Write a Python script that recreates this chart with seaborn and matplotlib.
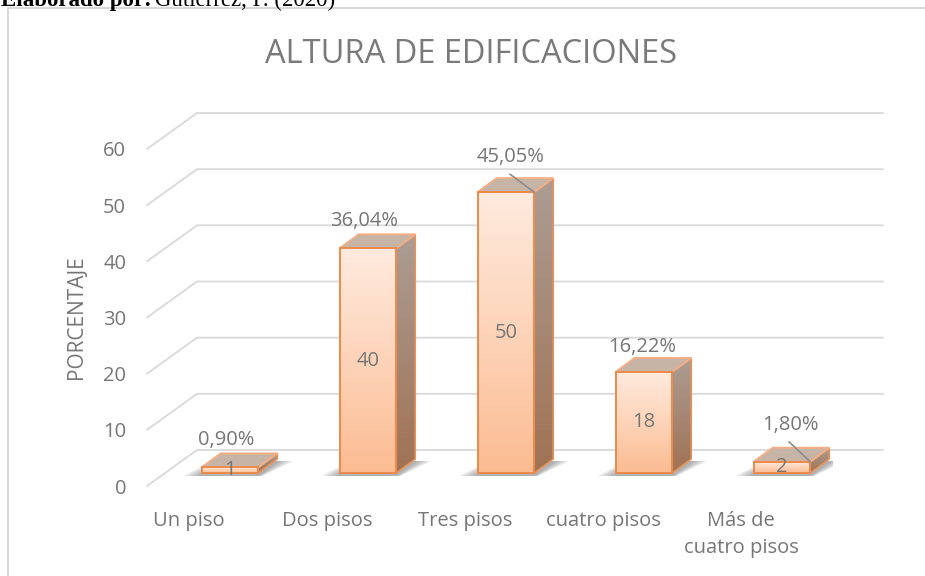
import numpy as np
import pandas as pd
import matplotlib
matplotlib.use("Agg")
import matplotlib.pyplot as plt
import seaborn as sns
from matplotlib.transforms import ScaledTranslation
from matplotlib.patches import Polygon
from matplotlib.lines import Line2D
from matplotlib.colors import LinearSegmentedColormap

# Datos
categorias = ["Un piso", "Dos pisos", "Tres pisos", "cuatro pisos", "Más de\ncuatro pisos"]
frecuencia = [1, 40, 50, 18, 2]
porcentajes = ["0,90%", "36,04%", "45,05%", "16,22%", "1,80%"]
marcas_y = [0, 10, 20, 30, 40, 50, 60]

titulo = "ALTURA DE EDIFICACIONES"
eje_y = "PORCENTAJE"
fuente_bold = "Elaborado por:"
fuente_txt = "Gutiérrez, P. (2020)"

sns.set_theme(style="white")
plt.rcParams["font.family"] = ["Open Sans", "DejaVu Sans"]

DPI = 100
W, H = 925, 576
fig = plt.figure(figsize=(W / DPI, H / DPI), dpi=DPI, facecolor="white")

# front plane of the 3-D box, in figure pixels
AX_L, AX_R, AX_B, AX_T = 147, 833, 486, 149
ax = fig.add_axes([AX_L / W, (H - AX_B) / H, (AX_R - AX_L) / W, (AX_B - AX_T) / H])
ax.set_facecolor("none")

df = pd.DataFrame({"categoria": categorias, "frecuencia": frecuencia})
sns.barplot(data=df, x="categoria", y="frecuencia", ax=ax, width=0.41,
            color="#FBC9A6", saturation=1, edgecolor="#EC8A4C", linewidth=1.4,
            errorbar=None, zorder=3)

x_min, x_max = -0.304, 4.667
ax.set_xlim(x_min, x_max)
ax.set_ylim(0, 60)
ax.set_autoscale_on(False)

sx = (x_max - x_min) / (AX_R - AX_L)   # data units per pixel
sy = 60 / (AX_B - AX_T)


def px(dx, dy):
    return ScaledTranslation(dx / DPI, dy / DPI, fig.dpi_scale_trans)


GRID_DX, GRID_DY = 50, 36   # depth of the back wall
BAR_DX, BAR_DY = 41, 13     # position of the bar fronts inside the box
DEP_DX, DEP_DY = 19, 14     # depth of each bar

TXT = "#767676"

# floor and wall gridlines
for v in marcas_y:
    ax.add_line(Line2D([x_min, x_min + GRID_DX * sx, x_max + GRID_DX * sx],
                       [v, v + GRID_DY * sy, v + GRID_DY * sy],
                       color="#D9D9D9", lw=1.3, clip_on=False, zorder=1))

bar_tr = ax.transData + px(BAR_DX, BAR_DY)
dx_d, dy_d = DEP_DX * sx, DEP_DY * sy

front_cmap = LinearSegmentedColormap.from_list("front", ["#FFEBDF", "#FBBC92"])
side_cmap = LinearSegmentedColormap.from_list("side", ["#AC9D94", "#A07254"])
grad = np.linspace(0, 1, 256).reshape(-1, 1)

# label offsets (px) from the top of each bar front, and leader-line flags
label_off = [(-4, 27, False), (-4, 27, False), (5, 35, True), (-2, 25, False), (8, 37, True)]

bars = list(ax.patches)
for bar, val, pct, (ldx, ldy, leader) in zip(bars, frecuencia, porcentajes, label_off):
    x0, w, h = bar.get_x(), bar.get_width(), bar.get_height()
    x1 = x0 + w
    xc = x0 + w / 2
    bar.set_transform(bar_tr)
    bar.set_clip_on(False)
    bar.set_facecolor("none")
    bar.set_zorder(3.5)

    # soft shadow on the floor
    for e in (1.0, 0.75, 0.5, 0.25):
        ax.add_patch(Polygon([(x0 - 18 * e * sx, -3 * sy), (x1 + 4 * e * sx, -3 * sy),
                              (x1 + dx_d + 16 * e * sx, dy_d - 2 * sy),
                              (x0 + dx_d - 8 * e * sx, dy_d - 2 * sy)],
                             closed=True, transform=bar_tr, facecolor="#333333",
                             edgecolor="none", alpha=0.11, zorder=2))

    # side face
    side = Polygon([(x1, 0), (x1 + dx_d, dy_d), (x1 + dx_d, h + dy_d), (x1, h)],
                   closed=True, transform=bar_tr, facecolor="none",
                   edgecolor="#E8925A", lw=1.2, zorder=3.2)
    ax.add_patch(side)
    im = ax.imshow(grad, cmap=side_cmap, aspect="auto", origin="upper",
                   extent=(x1, x1 + dx_d, 0, h + dy_d), transform=bar_tr,
                   interpolation="bilinear", zorder=3.0)
    im.set_clip_path(side)

    # top face
    ax.add_patch(Polygon([(x0, h), (x1, h), (x1 + dx_d, h + dy_d), (x0 + dx_d, h + dy_d)],
                         closed=True, transform=bar_tr, facecolor="#C6B4A6",
                         edgecolor="#F4AE86", lw=1.4, zorder=3.3))

    # front face gradient
    im = ax.imshow(grad, cmap=front_cmap, aspect="auto", origin="upper",
                   extent=(x0, x1, 0, h), transform=bar_tr,
                   interpolation="bilinear", zorder=3.4)
    im.set_clip_path(bar)

    # value inside the bar
    ax.text(xc, h / 2, f"{val}", transform=bar_tr, ha="center", va="center",
            fontsize=14.5, color=TXT, zorder=6)

    # percentage above the bar
    ax.text(xc, h, pct, transform=bar_tr + px(ldx, ldy), ha="center", va="center",
            fontsize=14.5, color=TXT, zorder=6)
    if leader:
        ax.add_line(Line2D([xc + (ldx - 1) * sx, x1], [h + (ldy - 17) * sy, h],
                           transform=bar_tr, color="#8C8C8C", lw=1.2,
                           clip_on=False, zorder=5))

for s in ax.spines.values():
    s.set_visible(False)
ax.set_yticks(marcas_y)
ax.tick_params(axis="y", length=0, pad=15, labelsize=14.5, labelcolor=TXT)
ax.tick_params(axis="x", length=0, pad=18, labelsize=14.5, labelcolor=TXT)
for lbl in ax.get_xticklabels():
    lbl.set_linespacing(1.45)
ax.set_xlabel("")
ax.set_ylabel(eje_y, fontsize=15, color=TXT)
ax.yaxis.set_label_coords((87 - AX_L) / (AX_R - AX_L), (AX_B - 317) / (AX_B - AX_T))

fig.text(471 / W, 1 - 63 / H, titulo, ha="center", va="baseline", fontsize=23.5, color="#7A7A7A")

# source line, cut at the top edge
fig.text(1 / W, 1 - 6 / H, fuente_bold, ha="left", va="baseline", fontsize=16.5,
         fontweight="bold", family="Liberation Serif", color="black")
fig.text(155 / W, 1 - 6 / H, fuente_txt, ha="left", va="baseline", fontsize=16.5,
         family="Liberation Serif", color="black")

# chart frame
fig.add_artist(Line2D([8 / W, 8 / W, 1], [0, 1 - 8 / H, 1 - 8 / H], transform=fig.transFigure,
                      color="#D4D4D4", lw=1.3))

fig.savefig("out.png", dpi=DPI)
